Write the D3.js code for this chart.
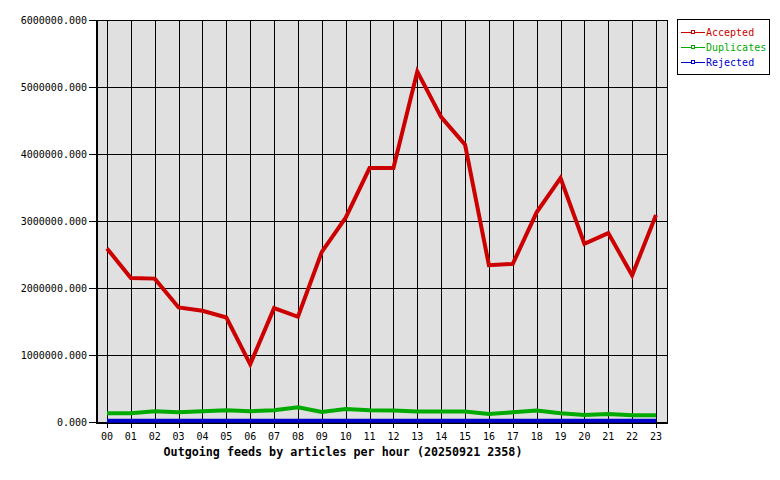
<!DOCTYPE html>
<html><head><meta charset="utf-8">
<script src="https://cdn.jsdelivr.net/npm/d3@7"></script>
<style>body{margin:0;background:#fff}svg{display:block}</style>
</head><body><svg id="c" width="780" height="480"></svg>
<script>
const hours = ["00","01","02","03","04","05","06","07","08","09","10","11","12","13","14","15","16","17","18","19","20","21","22","23"];
const accepted = [2590000,2150000,2140000,1710000,1660000,1560000,860000,1700000,1570000,2540000,3050000,3790000,3790000,5230000,4550000,4140000,2340000,2360000,3130000,3640000,2660000,2820000,2190000,3090000];
const duplicates = [130000,130000,160000,145000,160000,175000,160000,175000,220000,150000,195000,175000,170000,155000,155000,155000,120000,145000,170000,130000,105000,120000,100000,100000];
const rejected = [20000,20000,20000,20000,20000,20000,20000,20000,20000,20000,20000,20000,20000,20000,20000,20000,20000,20000,20000,20000,20000,20000,20000,20000];
const yTicks = [0,1000000,2000000,3000000,4000000,5000000,6000000];
const seriesNames = ["Accepted","Duplicates","Rejected"];
const seriesColors = ["#cc0000","#00aa00","#0000cc"];
const title = "Outgoing feeds by articles per hour (20250921 2358)";

const svg = d3.select("#c");
const L=96, R=668, T=20, B=422;
const x = d3.scaleLinear().domain([0,23]).range([107,656]);
const y = d3.scaleLinear().domain([0,6000000]).range([B,T]);
const font = "'DejaVu Sans Mono', monospace";

svg.append("rect").attr("x",L).attr("y",T).attr("width",R-L).attr("height",B-T).attr("fill","#e0e0e0");

const g = svg.append("g").attr("shape-rendering","crispEdges");
// horizontal grid
g.selectAll(".hg").data(yTicks).enter().append("line")
  .attr("x1",L-7).attr("x2",R).attr("y1",d=>Math.round(y(d))+0.5).attr("y2",d=>Math.round(y(d))+0.5)
  .attr("stroke","#000").attr("stroke-width",1);
// vertical grid
g.selectAll(".vg").data(hours).enter().append("line")
  .attr("x1",(d,i)=>Math.round(x(i))+0.5).attr("x2",(d,i)=>Math.round(x(i))+0.5)
  .attr("y1",T).attr("y2",B+6)
  .attr("stroke","#000").attr("stroke-width",1);
// frame
g.append("rect").attr("x",L+0.5).attr("y",T+0.5).attr("width",R-L-1).attr("height",B-T)
  .attr("fill","none").attr("stroke","#000").attr("stroke-width",1);
g.append("line").attr("x1",L+0.5).attr("x2",L+0.5).attr("y1",T).attr("y2",B+1).attr("stroke","#000").attr("stroke-width",2);
g.append("line").attr("x1",L).attr("x2",R).attr("y1",B+0.5).attr("y2",B+0.5).attr("stroke","#000").attr("stroke-width",2);

// y labels
svg.selectAll(".yl").data(yTicks).enter().append("text")
  .attr("x",87).attr("y",d=>y(d)).attr("dy","0.35em").attr("text-anchor","end")
  .attr("font-family",font).attr("font-size",10).attr("fill","#000")
  .text(d=>d3.format(".3f")(d));
// x labels
svg.selectAll(".xl").data(hours).enter().append("text")
  .attr("x",(d,i)=>x(i)).attr("y",436).attr("dy","0.35em").attr("text-anchor","middle")
  .attr("font-family",font).attr("font-size",10).attr("fill","#000")
  .text(d=>d);
// title
svg.append("text").attr("x",343).attr("y",452).attr("dy","0.35em").attr("text-anchor","middle")
  .attr("font-family",font).attr("font-size",11.7).attr("font-weight","bold").attr("fill","#000")
  .text(title);

// lines
const line = d3.line().x((d,i)=>x(i)).y(d=>y(d));
[accepted,duplicates,rejected].forEach((s,k)=>{
  svg.append("path").attr("d",line(s)).attr("fill","none")
    .attr("stroke",seriesColors[k]).attr("stroke-width",4).attr("stroke-linejoin","miter");
});

// legend
const lg = svg.append("g");
lg.append("rect").attr("x",677.5).attr("y",19.5).attr("width",92).attr("height",55)
  .attr("fill","#fff").attr("stroke","#000").attr("stroke-width",1).attr("shape-rendering","crispEdges");
seriesNames.forEach((n,k)=>{
  const yy = 32.5 + k*15;
  lg.append("line").attr("x1",681).attr("x2",705).attr("y1",yy).attr("y2",yy)
    .attr("stroke",seriesColors[k]).attr("stroke-width",1).attr("shape-rendering","crispEdges");
  lg.append("rect").attr("x",691.5).attr("y",yy-2).attr("width",3).attr("height",3)
    .attr("fill","#fff").attr("stroke",seriesColors[k]).attr("stroke-width",1).attr("shape-rendering","crispEdges");
  lg.append("text").attr("x",706).attr("y",yy).attr("dy","0.35em")
    .attr("font-family",font).attr("font-size",10).attr("fill",seriesColors[k]).text(n);
});
</script></body></html>
